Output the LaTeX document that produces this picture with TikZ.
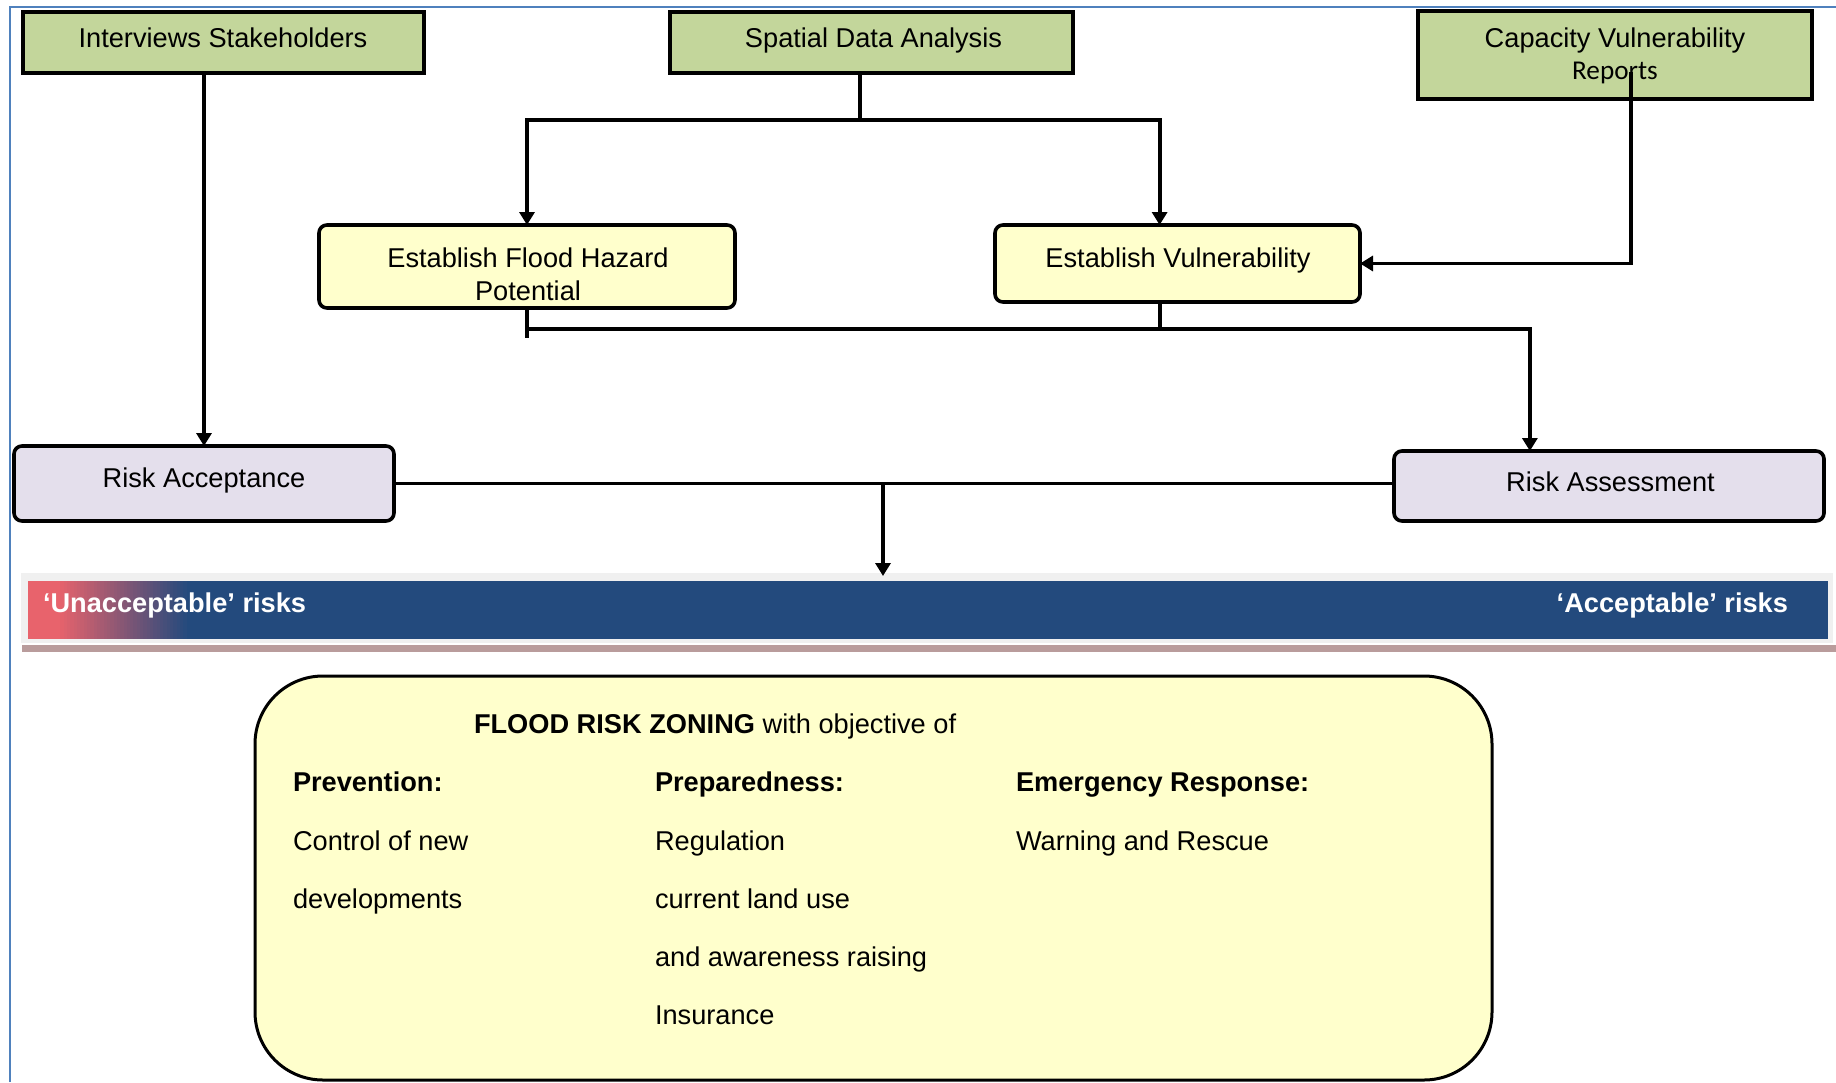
\documentclass[tikz,border=0pt]{standalone}
\usepackage{fontspec}
\setmainfont{Liberation Sans}
\newfontfamily\carlitofont{Carlito}
\usetikzlibrary{arrows.meta,calc}
\definecolor{boxgreen}{HTML}{C3D69B}
\definecolor{boxyellow}{HTML}{FFFFCC}
\definecolor{boxlav}{HTML}{E4DFEC}
\definecolor{framblue}{HTML}{4F81BD}
\definecolor{bardark}{HTML}{234A7D}
\definecolor{barred}{HTML}{E8636C}
\definecolor{bargrey}{HTML}{F0F0F0}
\definecolor{barshadow}{HTML}{B99C9C}
\begin{document}
\begin{tikzpicture}[x=0.5pt,y=-0.5pt,
  every node/.style={font=\fontsize{13.6}{16}\selectfont, inner sep=0pt, outer sep=0pt},
  greenbox/.style={draw=black, line width=1.8pt, fill=boxgreen},
  yelbox/.style={draw=black, line width=1.8pt, fill=boxyellow, rounded corners=4pt},
  lavbox/.style={draw=black, line width=1.8pt, fill=boxlav, rounded corners=4pt},
  bigbox/.style={draw=black, line width=1.5pt, fill=boxyellow, rounded corners=34pt},
  conn/.style={draw=black, line width=1.9pt},
  arr/.style={conn, -{Triangle[length=6.5pt,width=7.5pt]}},
  txt/.style={anchor=base},
  ltxt/.style={anchor=base west},
  bartxt/.style={text=white, font=\bfseries\fontsize{13.6}{16}\selectfont},
]
\useasboundingbox (0,0) rectangle (1836,1082);
\fill[white] (0,0) rectangle (1836,1082);
% outer frame
\draw[framblue, line width=1pt] (10,1082) -- (10,7) -- (1836,7);

% top boxes
\node[greenbox, minimum width=200.5pt, minimum height=30.5pt] (int) at (223.5,42.5) {};
\node[greenbox, minimum width=201.5pt, minimum height=30.5pt] (sda) at (871.5,42.5) {};
\node[greenbox, minimum width=197pt, minimum height=44pt] (cvr) at (1615,55) {};
\node[txt] (intT) at (223,47) {Interviews Stakeholders};
\node[txt] (sdaT) at (873.5,47) {Spatial Data Analysis};
\node[txt] (cvrT1) at (1615,47) {Capacity Vulnerability};
\node[txt, font=\carlitofont\fontsize{13.6}{16}\selectfont] (cvrT2) at (1615,79) {Reports};

% middle boxes
\node[yelbox, minimum width=208pt, minimum height=41.5pt] (fh) at (527,266.5) {};
\node[yelbox, minimum width=182.5pt, minimum height=38.5pt] (ev) at (1177.5,263.5) {};
\node[txt] (fhT1) at (528,267) {Establish Flood Hazard};
\node[txt] (fhT2) at (528,300) {Potential};
\node[txt] (evT) at (1178,267) {Establish Vulnerability};

% risk boxes
\node[lavbox, minimum width=190pt, minimum height=37.5pt] (ra) at (204,483.5) {};
\node[lavbox, minimum width=215pt, minimum height=35pt] (ras) at (1609,486) {};
\node[txt] (raT) at (204,487) {Risk Acceptance};
\node[txt] (rasT) at (1610.5,491) {Risk Assessment};

% banner
\node[fill=bargrey, minimum width=906pt, minimum height=35pt] (bframe) at (927,608) {};
\fill[barshadow] (22,645) rectangle (1836,652);
\node[fill=bardark, minimum width=900pt, minimum height=29pt] (bar) at (928,610) {};
\fill[barred] (28,581) rectangle (58,639);
\foreach \i in {0,...,39}{
  \pgfmathsetmacro{\pc}{100*\i/39}
  \fill[bardark!\pc!barred] ({57+\i*3.325},581) rectangle ({57+(\i+1)*3.325+0.6},639);
}
\node[ltxt, bartxt] (unT) at (43,612) {‘Unacceptable’ risks};
\node[anchor=base east, bartxt] (acT) at (1788,612) {‘Acceptable’ risks};

% flood risk zoning box
\node[bigbox, minimum width=618.5pt, minimum height=202pt] (zone) at (873.5,878) {};
\node[ltxt] (zT) at (474,733) {\textbf{FLOOD RISK ZONING} with objective of};
\node[ltxt] (p1) at (293,791) {\textbf{Prevention:}};
\node[ltxt] (p2) at (293,850) {Control of new};
\node[ltxt] (p3) at (293,908) {developments};
\node[ltxt] (q1) at (655,791) {\textbf{Preparedness:}};
\node[ltxt] (q2) at (655,850) {Regulation};
\node[ltxt] (q3) at (655,908) {current land use};
\node[ltxt] (q4) at (655,966) {and awareness raising};
\node[ltxt] (q5) at (655,1024) {Insurance};
\node[ltxt] (e1) at (1016,791) {\textbf{Emergency Response:}};
\node[ltxt] (e2) at (1016,850) {Warning and Rescue};

% connectors
\coordinate (sj) at (860,120);
\draw[conn] (sda.south -| sj) -- (sj);
\draw[arr] (sj) -| (fh.north);
\coordinate (evin) at ($(ev.north west)!0.451!(ev.north east)$);
\draw[arr] (sj) -| (evin);

\coordinate (cvs) at (1631,72);
\draw[arr] (cvs) |- (ev.east);

\draw[arr] (ra.north |- int.south) -- (ra.north);

\coordinate (hj) at ($(fh.south)+(0,21)$);
\draw[conn] (fh.south) -- ++(0,30);
\coordinate (evs) at ($(ev.south west)!0.451!(ev.south east)$);
\draw[conn] (evs) -- (evs |- hj);
\coordinate (rasin) at ($(ras.north west)!0.316!(ras.north east)$);
\draw[arr] (hj) -| (rasin);

\coordinate (rr) at (ra.east -| ras.west);
\draw[conn] (ra.east) -- (rr);
\coordinate (mid) at ($(ra.east)!0.489!(rr)$);
\draw[arr] (mid) -- ([yshift=-1.5pt]mid |- bframe.north);
\end{tikzpicture}
\end{document}
